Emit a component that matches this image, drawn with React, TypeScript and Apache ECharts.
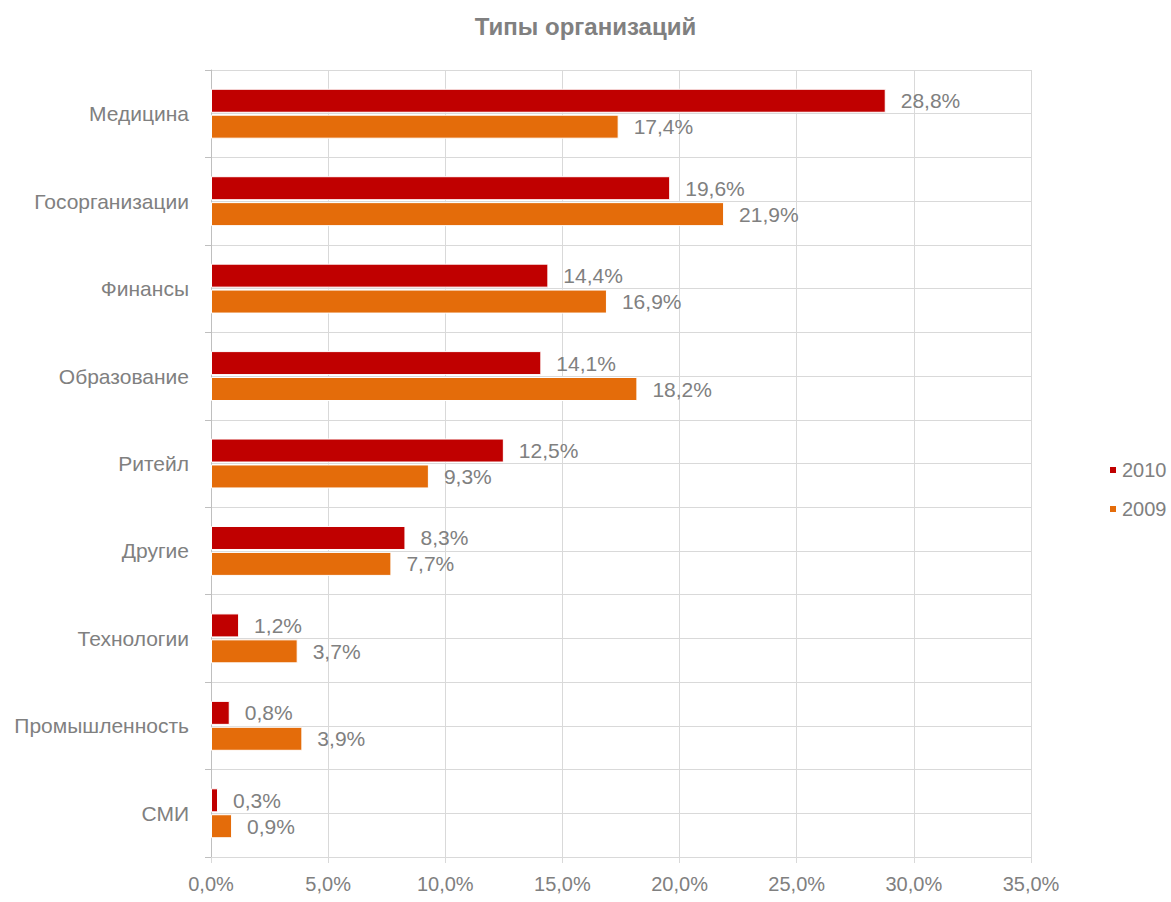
import React, { useEffect, useRef } from "react";
import * as echarts from "echarts";

const categories = [
  "Медицина",
  "Госорганизации",
  "Финансы",
  "Образование",
  "Ритейл",
  "Другие",
  "Технологии",
  "Промышленность",
  "СМИ",
];
const values2010 = [28.8, 19.6, 14.4, 14.1, 12.5, 8.3, 1.2, 0.8, 0.3];
const values2009 = [17.4, 21.9, 16.9, 18.2, 9.3, 7.7, 3.7, 3.9, 0.9];
const seriesNames = ["2010", "2009"];
const xMin = 0;
const xMax = 35;
const xStep = 5;

const FONT = "'Liberation Sans', Arial, sans-serif";
const GRAY = "#808080";
const GRID = "#D9D9D9";

const fmt = (v: number) => v.toFixed(1).replace(".", ",") + "%";

export default function App() {
  const ref = useRef<HTMLDivElement>(null);
  useEffect(() => {
    if (!ref.current) return;
    const chart = echarts.init(ref.current, undefined, { renderer: "svg" });
    const labelCfg = {
      show: true,
      position: "right",
      distance: 15,
      color: GRAY,
      fontSize: 21,
      fontFamily: FONT,
      formatter: (p: any) => fmt(p.value),
    };
    chart.setOption({
      animation: false,
      backgroundColor: "#fff",
      textStyle: { fontFamily: FONT },
      title: {
        text: "Типы организаций",
        left: "center",
        top: 9,
        textStyle: { color: GRAY, fontSize: 24, fontWeight: "bold", fontFamily: FONT },
      },
      legend: {
        orient: "vertical",
        left: 1103,
        top: 455,
        itemWidth: 8,
        itemHeight: 8,
        itemGap: 19,
        icon: "rect",
        data: seriesNames,
        textStyle: { color: GRAY, fontSize: 20, fontFamily: FONT },
      },
      grid: { left: 211, right: 140, top: 70, bottom: 45, containLabel: false },
      xAxis: {
        type: "value",
        min: xMin,
        max: xMax,
        interval: xStep,
        axisLine: { show: true, lineStyle: { color: GRID, width: 1 } },
        axisTick: { show: true, length: 6, lineStyle: { color: GRID } },
        splitLine: { show: true, lineStyle: { color: GRID, width: 1 } },
        axisLabel: { color: GRAY, fontSize: 20, fontFamily: FONT, margin: 17, formatter: (v: number) => fmt(v) },
      },
      yAxis: [
        {
          type: "category",
          data: categories,
          inverse: true,
          axisLine: { show: true, lineStyle: { color: "#BFBFBF", width: 1 } },
          axisTick: { show: true, length: 6, lineStyle: { color: "#BFBFBF" } },
          splitLine: { show: true, lineStyle: { color: GRID, width: 1 } },
          axisLabel: { color: GRAY, fontSize: 21, fontFamily: FONT, margin: 22 },
        },
        {
          type: "value",
          min: 0,
          max: categories.length * 2,
          interval: 1,
          position: "right",
          axisLine: { show: false },
          axisTick: { show: false },
          axisLabel: { show: false },
          splitLine: { show: true, lineStyle: { color: GRID, width: 1 } },
        },
      ],
      series: [
        {
          name: seriesNames[0],
          type: "bar",
          yAxisIndex: 0,
          data: values2010,
          barWidth: 24,
          barGap: "8%",
          itemStyle: { color: "#C00000", borderColor: "#fff", borderWidth: 1 },
          label: labelCfg,
          z: 3,
        },
        {
          name: seriesNames[1],
          type: "bar",
          yAxisIndex: 0,
          data: values2009,
          barWidth: 24,
          barGap: "8%",
          itemStyle: { color: "#E46C0A", borderColor: "#fff", borderWidth: 1 },
          label: labelCfg,
          z: 3,
        },
      ],
    });
    return () => chart.dispose();
  }, []);
  return <div ref={ref} style={{ width: 1171, height: 902, position: "absolute", left: 0, top: 0 }} />;
}
